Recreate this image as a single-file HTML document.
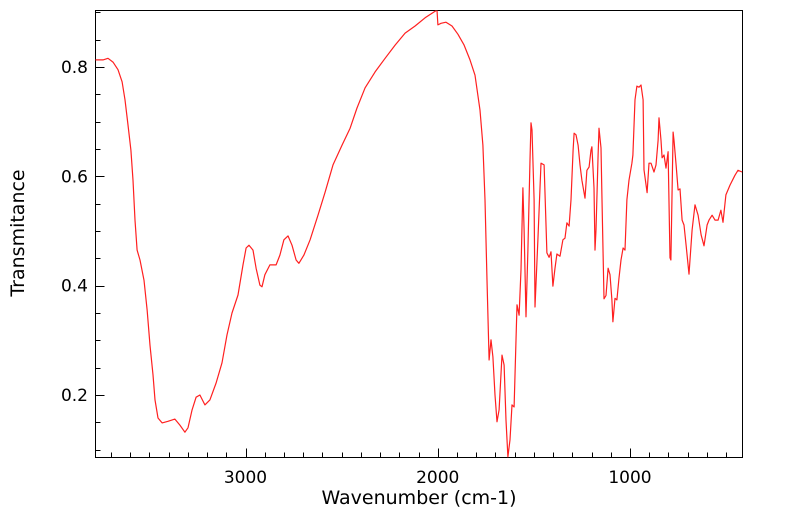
<!DOCTYPE html>
<html><head><meta charset="utf-8"><style>
html,body{margin:0;padding:0;background:#fff;}
svg{display:block;font-family:"DejaVu Sans","Liberation Sans",sans-serif;}
</style></head><body>
<svg id="chart" width="799" height="516" viewBox="0 0 799 516" xmlns="http://www.w3.org/2000/svg">
<defs><clipPath id="plotclip"><rect x="95.5" y="10.5" width="647" height="447"/></clipPath></defs>
<rect x="95.5" y="10.5" width="647" height="447" fill="none" stroke="#000" stroke-width="1"/>
<g id="ticks"></g>
<g id="series" clip-path="url(#plotclip)"></g>
<text x="24" y="233" font-size="19" text-anchor="middle" transform="rotate(-90 24 233)">Transmitance</text>
<text x="419" y="504" font-size="19" text-anchor="middle">Wavenumber (cm-1)</text>
</svg>
<script>
const wavenumbers=[3783,3741,3715,3689,3663,3642,3627,3611,3596,3585,3575,3564,3549,3528,3512,3497,3481,3471,3455,3434,3403,3367,3341,3315,3299,3278,3257,3237,3211,3185,3153,3122,3096,3070,3039,3013,2997,2982,2961,2945,2925,2914,2899,2873,2841,2821,2800,2779,2758,2737,2722,2696,2664,2623,2586,2545,2498,2456,2420,2378,2326,2274,2222,2170,2118,2066,2014,2004,1999,1983,1957,1926,1895,1863,1832,1806,1780,1765,1754,1744,1733,1723,1713,1702,1692,1681,1666,1655,1645,1635,1624,1614,1603,1588,1577,1567,1557,1551,1541,1531,1520,1515,1510,1499,1494,1479,1463,1447,1432,1421,1411,1401,1390,1380,1364,1349,1338,1328,1317,1307,1296,1291,1281,1270,1260,1250,1234,1224,1213,1203,1198,1187,1182,1177,1166,1161,1151,1146,1135,1125,1114,1104,1094,1089,1078,1068,1057,1047,1036,1026,1016,1005,990,985,974,964,953,943,932,927,911,901,891,875,865,854,849,839,833,823,813,802,792,787,776,771,760,750,740,729,719,708,693,677,662,646,630,615,599,589,573,558,542,527,516,501,480,454,438,417];
const transmittance=[0.813,0.813,0.816,0.809,0.795,0.773,0.740,0.694,0.648,0.593,0.520,0.465,0.447,0.410,0.356,0.291,0.237,0.191,0.158,0.149,0.152,0.156,0.145,0.132,0.140,0.173,0.196,0.200,0.182,0.191,0.222,0.259,0.310,0.350,0.383,0.438,0.469,0.474,0.465,0.432,0.401,0.398,0.420,0.438,0.438,0.456,0.484,0.491,0.474,0.447,0.441,0.456,0.484,0.529,0.571,0.621,0.657,0.688,0.725,0.762,0.791,0.816,0.840,0.862,0.875,0.890,0.902,0.904,0.877,0.880,0.882,0.875,0.860,0.840,0.813,0.785,0.721,0.657,0.557,0.410,0.264,0.301,0.270,0.200,0.151,0.173,0.273,0.255,0.154,0.087,0.118,0.182,0.178,0.365,0.346,0.429,0.579,0.502,0.343,0.465,0.630,0.698,0.685,0.557,0.361,0.484,0.624,0.621,0.460,0.452,0.462,0.399,0.432,0.458,0.454,0.484,0.487,0.515,0.509,0.557,0.648,0.679,0.676,0.657,0.621,0.593,0.560,0.611,0.617,0.648,0.654,0.579,0.465,0.502,0.639,0.688,0.652,0.566,0.376,0.382,0.432,0.420,0.374,0.334,0.377,0.374,0.414,0.447,0.469,0.465,0.557,0.593,0.624,0.639,0.740,0.765,0.763,0.767,0.740,0.612,0.570,0.624,0.624,0.608,0.621,0.666,0.707,0.666,0.634,0.639,0.615,0.645,0.451,0.447,0.681,0.666,0.621,0.575,0.577,0.520,0.511,0.474,0.421,0.502,0.548,0.529,0.493,0.473,0.511,0.520,0.529,0.520,0.520,0.538,0.516,0.566,0.584,0.602,0.611,0.608];
const xMajorTicks=[3000,2000,1000];
const xMajorLabels=["3000","2000","1000"];
const yMajorTicks=[0.2,0.4,0.6,0.8];
const yMajorLabels=["0.2","0.4","0.6","0.8"];

const NS="http://www.w3.org/2000/svg";
const L=95.5,R=742.5,T=10.5,B=457.5;
function xScale(w){return 245.5+(3000-w)*0.19225;}
function yScale(v){return 67+(0.8-v)*546.7;}
const ticks=document.getElementById('ticks');
function line(x1,y1,x2,y2,name){
  const l=document.createElementNS(NS,'line');
  l.setAttribute('x1',x1);l.setAttribute('y1',y1);l.setAttribute('x2',x2);l.setAttribute('y2',y2);
  l.setAttribute('stroke','#000');l.setAttribute('stroke-width','1');
  
  
  ticks.appendChild(l);
}
function label(x,y,txt,anchor,name){
  const t=document.createElementNS(NS,'text');
  t.setAttribute('x',x);t.setAttribute('y',y);t.setAttribute('font-size','17');t.setAttribute('text-anchor',anchor);
  t.textContent=txt;
  
  
  ticks.appendChild(t);
}
for(let w=3700;w>=500;w-=100){
  const x=Math.round(xScale(w))+0.5;
  if(x<L||x>R) continue;
  const major=xMajorTicks.includes(w);
  line(x,B,x,B-(major?9:5),'x-tick');
}
xMajorTicks.forEach((w,i)=>label(xScale(w),483,xMajorLabels[i],'middle','x-tick-label'));
for(let k=2;k<=18;k++){
  const v=k*0.05;
  const y=Math.round(yScale(v))+0.5;
  if(y<T||y>B) continue;
  const major=(k%4===0);
  line(L,y,L+(major?9:5),y,'y-tick');
}
yMajorTicks.forEach((v,i)=>label(88,yScale(v)+6,yMajorLabels[i],'end','y-tick-label'));

let d='';
wavenumbers.forEach((w,i)=>{d+=(i?'L':'M')+xScale(w).toFixed(1)+','+yScale(transmittance[i]).toFixed(1);});
const p=document.createElementNS(NS,'path');
p.setAttribute('d',d);p.setAttribute('fill','none');p.setAttribute('stroke','#ff2020');p.setAttribute('stroke-width','1.2');p.setAttribute('stroke-linejoin','round');


document.getElementById('series').appendChild(p);
</script>
</body></html>
